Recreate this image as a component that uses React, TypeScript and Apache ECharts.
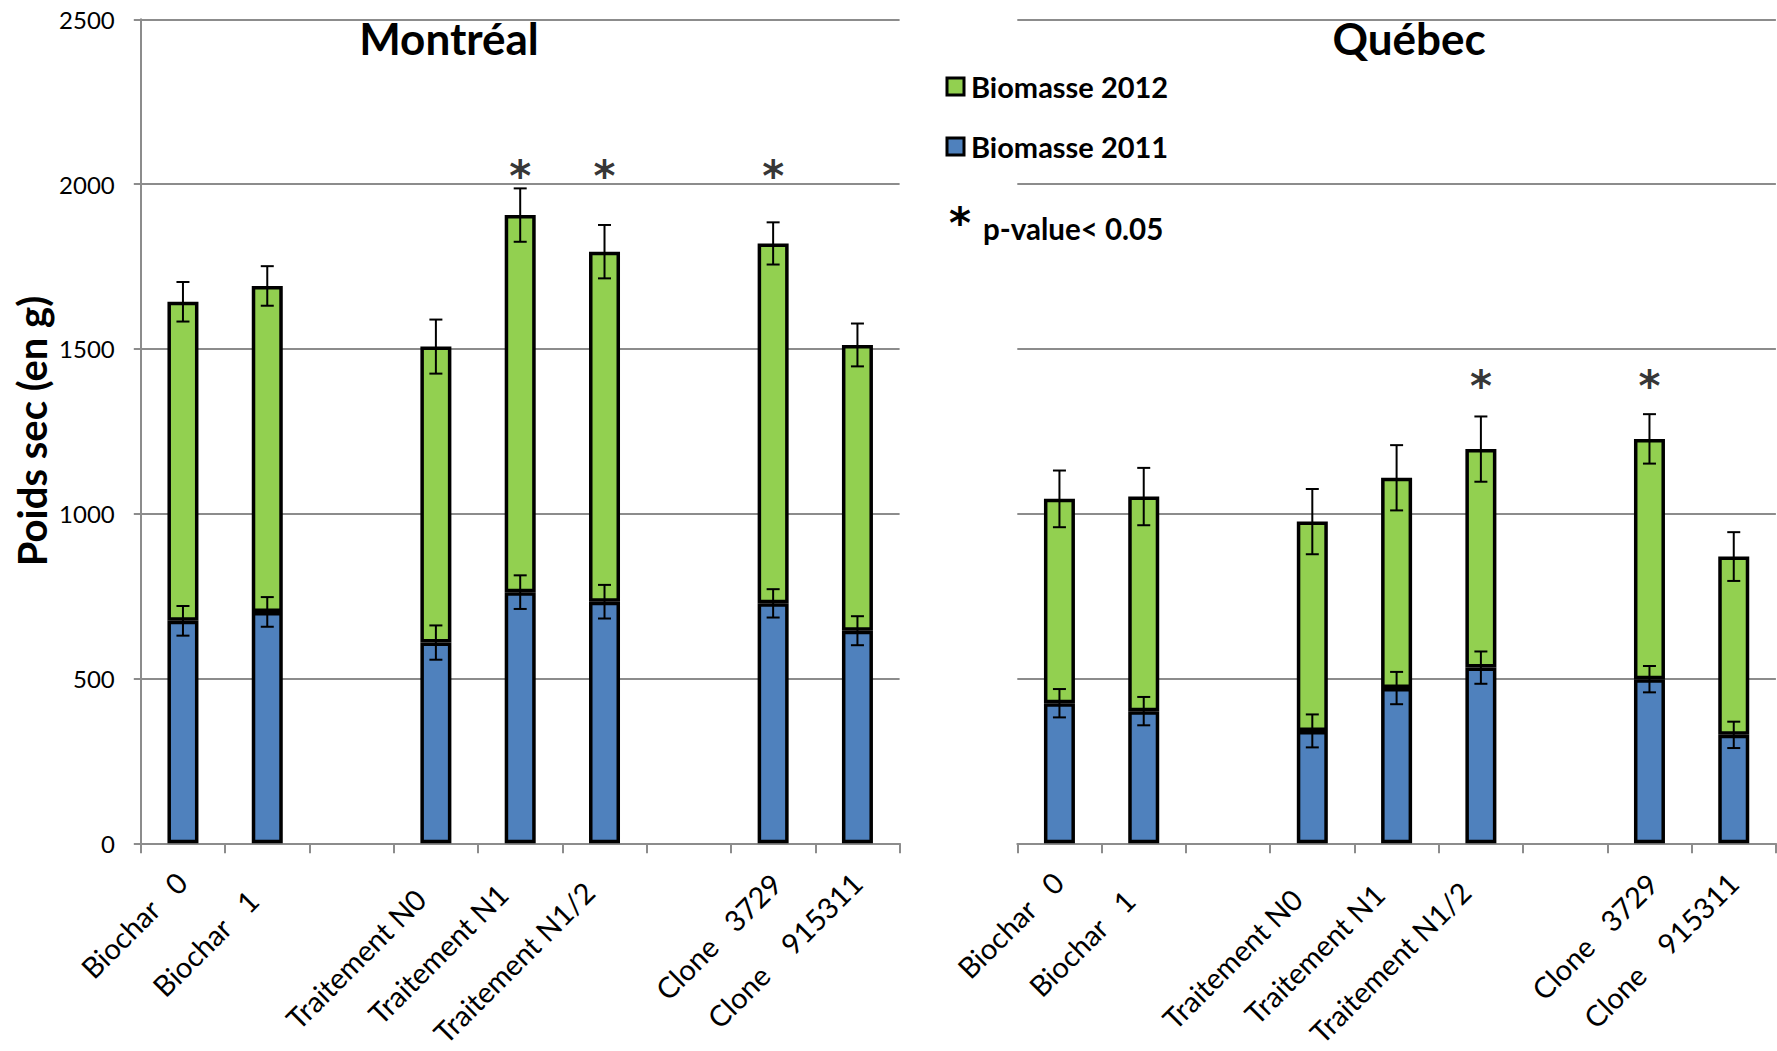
import { useEffect, useRef } from 'react';
import * as echarts from 'echarts';

// ---- data ----
const categories = ['Biochar   0', 'Biochar   1', '', 'Traitement N0', 'Traitement N1', 'Traitement N1/2', ' ', 'Clone   3729', 'Clone    915311'];
const yTicks = [0, 500, 1000, 1500, 2000, 2500];
const seriesNames = ['Biomasse 2011', 'Biomasse 2012'];

const montreal2011 = [675, 702, null, 609, 762, 733, null, 728, 645];
const montreal2012 = [968, 989, null, 898, 1144, 1062, null, 1092, 867];
const montrealErr2011 = [45, 45, null, 52, 51, 51, null, 43, 44];
const montrealErrTotal = [60, 60, null, 82, 81, 81, null, 64, 65];
const montrealStars = [4, 5, 7];
const montrealStarLevel = 2024;

const quebec2011 = [425, 401, null, 341, 471, 533, null, 498, 329];
const quebec2012 = [620, 651, null, 635, 638, 663, null, 729, 541];
const quebecErr2011 = [43, 43, null, 50, 49, 49, null, 40, 40];
const quebecErrTotal = [86, 87, null, 99, 99, 99, null, 75, 74];
const quebecStars = [5, 7];
const quebecStarLevel = 1386;

const panelTitles = ['Montréal', 'Québec'];
const yAxisTitle = 'Poids sec (en g)';
const noteText = 'p-value< 0.05';

// ---- styling ----
const FONT = 'Lato';
const STAR_FONT = 'DejaVu Sans';
const BLUE = '#4F81BD';
const GREEN = '#92D050';
const GRID_GRAY = '#8c8c8c';
const LABEL_SIZE = 29;
// per-label offsets along the text (right padding) and across it (top padding)
const labelShift = [5, 27, 0, 27, 25, 22, 0, 3, 5];
const labelDrop = [6, 14, 0, 10, 0, 0, 0, 14, 8];

function errData(base: (number | null)[], top: (number | null)[] | null, err: (number | null)[]) {
  const out: number[][] = [];
  base.forEach((b, i) => {
    if (b == null || err[i] == null) return;
    const c = top ? b + (top[i] as number) : b;
    out.push([i, c, err[i] as number]);
  });
  return out;
}

function starData(idx: number[], level: number) {
  return idx.map((i) => [i, level]);
}

const renderErr = (_params: any, api: any) => {
  const i = api.value(0);
  const c = api.value(1);
  const e = api.value(2);
  const hi = api.coord([i, c + e]);
  const lo = api.coord([i, c - e]);
  const hw = 6.5;
  const style = { stroke: '#000', lineWidth: 2 };
  return {
    type: 'group',
    children: [
      { type: 'line', shape: { x1: hi[0], y1: hi[1], x2: lo[0], y2: lo[1] }, style },
      { type: 'line', shape: { x1: hi[0] - hw, y1: hi[1], x2: hi[0] + hw, y2: hi[1] }, style },
      { type: 'line', shape: { x1: lo[0] - hw, y1: lo[1], x2: lo[0] + hw, y2: lo[1] }, style },
    ],
  };
};

function buildRich() {
  const rich: any = {};
  labelShift.forEach((d, i) => {
    rich['c' + i] = { fontFamily: FONT, fontSize: LABEL_SIZE, color: '#000', padding: [labelDrop[i], d, 0, 0] };
  });
  return rich;
}

function xAxis(gridIndex: number) {
  return {
    type: 'category',
    gridIndex,
    data: categories,
    axisLine: { show: true, lineStyle: { color: GRID_GRAY, width: 2 } },
    axisTick: { show: true, length: 10, lineStyle: { color: GRID_GRAY, width: 2 } },
    axisLabel: {
      interval: 0,
      rotate: 45,
      margin: 28,
      fontFamily: FONT,
      fontSize: LABEL_SIZE,
      color: '#000',
      formatter: (v: string, i: number) => (v.trim() === '' ? '' : `{c${i}|${v}}`),
      rich: buildRich(),
    },
  };
}

function yAxis(gridIndex: number, showLine: boolean) {
  return {
    type: 'value',
    gridIndex,
    min: yTicks[0],
    max: yTicks[yTicks.length - 1],
    interval: yTicks[1] - yTicks[0],
    axisLine: { show: showLine, lineStyle: { color: GRID_GRAY, width: 2 } },
    axisTick: { show: showLine, length: 7, lineStyle: { color: GRID_GRAY, width: 2 } },
    splitLine: { show: true, lineStyle: { color: GRID_GRAY, width: 2 } },
    axisLabel: {
      show: showLine,
      margin: 26,
      fontFamily: FONT,
      fontSize: 24,
      color: '#000',
      formatter: (v: number) => String(v),
    },
  };
}

function panelSeries(idx: number, b2011: (number | null)[], b2012: (number | null)[], e2011: (number | null)[], eTot: (number | null)[], stars: number[], starLevel: number) {
  const barBorder = { borderColor: '#000', borderWidth: 3.5 };
  return [
    {
      type: 'bar', name: seriesNames[0], xAxisIndex: idx, yAxisIndex: idx, stack: 's' + idx,
      data: b2011, barWidth: 31, itemStyle: { color: BLUE, ...barBorder },
    },
    {
      type: 'bar', name: seriesNames[1], xAxisIndex: idx, yAxisIndex: idx, stack: 's' + idx,
      data: b2012, barWidth: 31, itemStyle: { color: GREEN, ...barBorder },
    },
    {
      type: 'custom', name: 'err2011_' + idx, xAxisIndex: idx, yAxisIndex: idx, z: 5,
      renderItem: renderErr, data: errData(b2011, null, e2011), silent: true,
    },
    {
      type: 'custom', name: 'errTot_' + idx, xAxisIndex: idx, yAxisIndex: idx, z: 5,
      renderItem: renderErr, data: errData(b2011, b2012, eTot), silent: true,
    },
    {
      type: 'scatter', name: 'stars_' + idx, xAxisIndex: idx, yAxisIndex: idx, z: 6,
      data: starData(stars, starLevel), symbolSize: 1, itemStyle: { color: 'rgba(0,0,0,0)' },
      label: {
        show: true, position: 'inside', formatter: '*',
        fontFamily: STAR_FONT, fontWeight: 'bold', fontSize: 42, color: '#000',
      },
      silent: true,
    },
  ];
}

function txt(text: string, x: number, y: number, font: string, extra: any = {}) {
  return {
    type: 'text', x, y, ...extra,
    style: {
      text, font, fill: '#000',
      align: extra.align || 'center', verticalAlign: 'middle',
      textAlign: extra.align || 'center', textVerticalAlign: 'middle',
    },
  };
}

export default function App() {
  const ref = useRef<HTMLDivElement>(null);
  useEffect(() => {
    if (!ref.current) return;
    const chart = echarts.init(ref.current, null, { renderer: 'svg' });
    chart.setOption({
      animation: false,
      backgroundColor: '#fff',
      grid: [
        { left: 140.8, top: 19.3, width: 758.8, height: 824, outerBoundsMode: 'none', containLabel: false },
        { left: 1017.3, top: 19.3, width: 758.6, height: 824, outerBoundsMode: 'none', containLabel: false },
      ],
      xAxis: [xAxis(0), xAxis(1)],
      yAxis: [yAxis(0, true), yAxis(1, false)],
      legend: {
        data: [seriesNames[1], seriesNames[0]],
        orient: 'vertical',
        left: 945.5,
        top: 72,
        padding: 0,
        itemWidth: 17,
        itemHeight: 17,
        itemGap: 31,
        icon: 'rect',
        selectedMode: false,
        itemStyle: { borderColor: '#000', borderWidth: 3 },
        textStyle: { fontFamily: FONT, fontWeight: 'bold', fontSize: 29, color: '#000', padding: [0, 0, 0, 2] },
      },
      graphic: [
        txt(panelTitles[0], 449, 38, `bold 44px ${FONT}`),
        txt(panelTitles[1], 1409, 38, `bold 44px ${FONT}`),
        txt(yAxisTitle, 31.6, 431, `bold 40px ${FONT}`, { rotation: Math.PI / 2 }),
        txt('*', 960, 223, `bold 42px '${STAR_FONT}'`),
        txt(noteText, 983, 228, `bold 29.5px ${FONT}`, { align: 'left' }),
      ],
      series: [
        ...panelSeries(0, montreal2011, montreal2012, montrealErr2011, montrealErrTotal, montrealStars, montrealStarLevel),
        ...panelSeries(1, quebec2011, quebec2012, quebecErr2011, quebecErrTotal, quebecStars, quebecStarLevel),
      ],
    });
    return () => chart.dispose();
  }, []);
  return <div ref={ref} style={{ position: 'fixed', left: 0, top: 0, width: 1777, height: 1051 }} />;
}
